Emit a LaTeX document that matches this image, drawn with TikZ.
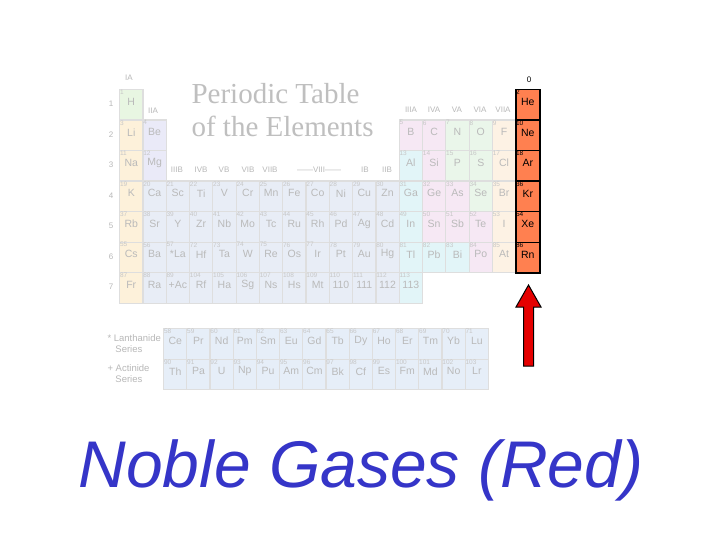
\documentclass[tikz,border=0pt]{standalone}
\usepackage{fontspec}
\setmainfont{Liberation Sans}
\newfontfamily\serifT{Liberation Serif}
\begin{document}
\begin{tikzpicture}[x=1pt,y=-1pt,
  cell/.style={draw=black!13,line width=1.2pt,minimum width=23.3pt,minimum height=30.5pt,anchor=north west,inner sep=0pt},
  noble/.style={draw=black,line width=1.5pt,fill=nob,minimum width=24pt,minimum height=30.5pt,anchor=north west,inner sep=0pt},
  sym/.style={font=\fontsize{10.5}{10.5}\selectfont,text=black!27},
  num/.style={font=\fontsize{6.5}{6.5}\selectfont,text=black!22,anchor=north west,inner sep=0.8pt},
  lab/.style={font=\fontsize{8}{8}\selectfont,text=black!28}]
\definecolor{cH}{HTML}{E8F6E2}
\definecolor{c1}{HTML}{FDF1DA}
\definecolor{c2}{HTML}{EAEAF8}
\definecolor{ct}{HTML}{E8EDF6}
\definecolor{c3}{HTML}{E2F5F8}
\definecolor{c4}{HTML}{F6E8F4}
\definecolor{c5}{HTML}{EAF6EA}
\definecolor{c7}{HTML}{FDF2E4}
\definecolor{cl}{HTML}{E6EEF8}
\definecolor{nob}{HTML}{FF8050}
\definecolor{cap}{HTML}{3535C8}
\useasboundingbox (0,0) rectangle (720,540);
\fill[white] (0,0) rectangle (720,540);
% main table
\foreach \c/\r/\n/\s/\k in {
1/1/1/H/cH,
1/2/3/Li/c1,2/2/4/Be/c2,13/2/5/B/c4,14/2/6/C/c4,15/2/7/N/c5,16/2/8/O/c5,17/2/9/F/c7,
1/3/11/Na/c1,2/3/12/Mg/c2,13/3/13/Al/c3,14/3/14/Si/c4,15/3/15/P/c5,16/3/16/S/c5,17/3/17/Cl/c7,
1/4/19/K/c1,2/4/20/Ca/ct,3/4/21/Sc/ct,4/4/22/Ti/ct,5/4/23/V/ct,6/4/24/Cr/ct,7/4/25/Mn/ct,8/4/26/Fe/ct,9/4/27/Co/ct,10/4/28/Ni/ct,11/4/29/Cu/ct,12/4/30/Zn/ct,13/4/31/Ga/c3,14/4/32/Ge/c4,15/4/33/As/c4,16/4/34/Se/c5,17/4/35/Br/c7,
1/5/37/Rb/c1,2/5/38/Sr/ct,3/5/39/Y/ct,4/5/40/Zr/ct,5/5/41/Nb/ct,6/5/42/Mo/ct,7/5/43/Tc/ct,8/5/44/Ru/ct,9/5/45/Rh/ct,10/5/46/Pd/ct,11/5/47/Ag/ct,12/5/48/Cd/ct,13/5/49/In/c3,14/5/50/Sn/c4,15/5/51/Sb/c4,16/5/52/Te/c4,17/5/53/I/c7,
1/6/55/Cs/c1,2/6/56/Ba/ct,3/6/57/*La/ct,4/6/72/Hf/ct,5/6/73/Ta/ct,6/6/74/W/ct,7/6/75/Re/ct,8/6/76/Os/ct,9/6/77/Ir/ct,10/6/78/Pt/ct,11/6/79/Au/ct,12/6/80/Hg/ct,13/6/81/Tl/c3,14/6/82/Pb/c3,15/6/83/Bi/c3,16/6/84/Po/c4,17/6/85/At/c7,
1/7/87/Fr/c1,2/7/88/Ra/ct,3/7/89/+Ac/ct,4/7/104/Rf/ct,5/7/105/Ha/ct,6/7/106/Sg/ct,7/7/107/Ns/ct,8/7/108/Hs/ct,9/7/109/Mt/ct,10/7/110/110/ct,11/7/111/111/ct,12/7/112/112/ct,13/7/113/113/c3}{
  \node[cell,fill=\k] (e\n) at ({119+(\c-1)*23.3},{89+(\r-1)*30.5}) {};
  \node[num] (n\n) at (e\n.north west) {\n};
  \node[sym] (s\n) at ([yshift=3pt]e\n.center) {\s};
}
% noble gases
\foreach \r/\n/\s in {1/2/He,2/10/Ne,3/18/Ar,4/36/Kr,5/54/Xe,6/86/Rn}{
  \node[noble] (e\n) at (515,{89+(\r-1)*30.5}) {};
  \node[num,text=black] (n\n) at (e\n.north west) {\n};
  \node[sym,text=black] (s\n) at ([yshift=3pt]e\n.center) {\s};
}
% lanthanides / actinides
\foreach \c/\r/\n/\s in {
1/1/58/Ce,2/1/59/Pr,3/1/60/Nd,4/1/61/Pm,5/1/62/Sm,6/1/63/Eu,7/1/64/Gd,8/1/65/Tb,9/1/66/Dy,10/1/67/Ho,11/1/68/Er,12/1/69/Tm,13/1/70/Yb,14/1/71/Lu,
1/2/90/Th,2/2/91/Pa,3/2/92/U,4/2/93/Np,5/2/94/Pu,6/2/95/Am,7/2/96/Cm,8/2/97/Bk,9/2/98/Cf,10/2/99/Es,11/2/100/Fm,12/2/101/Md,13/2/102/No,14/2/103/Lr}{
  \node[cell,fill=cl] (e\n) at ({163+(\c-1)*23.2},{328+(\r-1)*30.5}) {};
  \node[num] (n\n) at (e\n.north west) {\n};
  \node[sym] (s\n) at ([yshift=3pt]e\n.center) {\s};
}
% labels
\node[lab] (gIA) at (129,78) {IA};
\node[lab] (gIIA) at (153,111) {IIA};
\foreach \x/\t [count=\i] in {177/IIIB,201/IVB,224/VB,248/VIB,270/VIIB,319/{——VIII——},365/IB,387/IIB,411/IIIA,434/IVA,457/VA,480/VIA,503/VIIA}{
  \node[lab] (g\i) at (\x,{\i<9?170:110}) {\t};
}
\node[lab,text=black] (g0) at (529,80) {0};
\foreach \r in {1,...,7}{\node[lab] (p\r) at (111,{104+(\r-1)*30.5}) {\r};}
\node[lab,font=\fontsize{9.5}{11}\selectfont,align=left,anchor=west] (lan) at (104,344) {* Lanthanide\\\ \ \ Series};
\node[lab,font=\fontsize{9.5}{11}\selectfont,align=left,anchor=west] (act) at (104,374) {+ Actinide\\\ \ \ Series};
\node[font=\serifT\fontsize{29}{33}\selectfont,text=black!25,align=left,anchor=north west] (title) at (188,80) {Periodic Table\\of the Elements};
% arrow
\fill[red!90!black,draw=black,line width=1pt] (528.5,285) -- (541,307) -- (533.5,307) -- (533.5,366) -- (523.5,366) -- (523.5,307) -- (516,307) -- cycle;
% caption
\node[font=\fontsize{66}{66}\selectfont\itshape,text=cap] (caption) at (361,470) {Noble Gases (Red)};
\end{tikzpicture}
\end{document}
